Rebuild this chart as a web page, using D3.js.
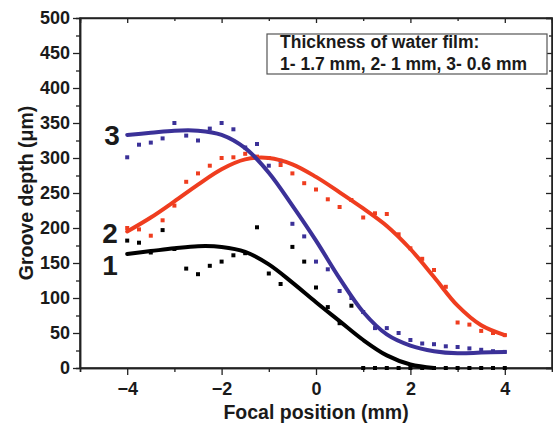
<!DOCTYPE html>
<html>
<head>
<meta charset="utf-8">
<script src="https://cdn.jsdelivr.net/npm/d3@7"></script>
<style>
  body { margin: 0; background: #fff; }
  text { font-family: "Liberation Sans", Arial, sans-serif; font-weight: bold; fill: #1a1a1a; }
</style>
</head>
<body>
<div id="chart"></div>
<script>
var width = 553,
    height = 426;

// measured focal positions (mm)
var focal = [-4, -3.75, -3.5, -3.25, -3, -2.75, -2.5, -2.25, -2, -1.75, -1.5, -1.25, -1, -0.75, -0.5, -0.25,
             0, 0.25, 0.5, 0.75, 1, 1.25, 1.5, 1.75, 2, 2.25, 2.5, 2.75, 3, 3.25, 3.5, 3.75, 4];

// measured groove depth (um), one array per water film
var depth1 = [182, 179, 165, 197, 170, 142, 134, 146, 152, 161, 164, 201, 135, 120, 173, 152,
              115, 87, 64, 89, 0, 0, 0, 0, 0, 0, 0, 0, 0, 0, 0, 0, 0];
var depth2 = [200, 198, 189, 211, 232, 266, 278, 289, 300, 301, 306, 302, 300, 290, 278, 264,
              255, 241, 230, 240, 215, 221, 220, 191, 171, 156, 140, 116, 65, 62, 53, 50, 47];
var depth3 = [301, 319, 322, 328, 350, 332, 325, 342, 350, 341, 315, 320, 289, 296, 206, 188,
              152, 141, 110, 100, 80, 57, 57, 50, 40, 35, 34, 31, 30, 28, 26, 24, 23];

// fitted curves
var fitX = [-4, -3.5, -3, -2.5, -2, -1.5, -1, -0.5, 0, 0.5, 1, 1.5, 2, 2.5, 3, 3.5, 4];
var fit1 = [163, 167, 171, 174, 173, 166, 148, 122, 94, 67, 40, 18, 5, 0];
var fit2 = [195, 215, 238, 262, 284, 298, 300, 291, 273, 251, 228, 203, 170, 130, 89, 61, 47];
var fit3 = [333, 336, 339, 339, 333, 314, 279, 232, 182, 128, 80, 48, 32, 24, 21, 22, 23];

var xTicks = [-4, -2, 0, 2, 4];
var yTicks = [0, 50, 100, 150, 200, 250, 300, 350, 400, 450, 500];

var colors = ["#000000", "#ef3d1f", "#3b3198"];

var padL = 80, padR = 552, padT = 18, padB = 368;

var x = d3.scaleLinear().domain([-5, 5]).range([padL, padR]);
var y = d3.scaleLinear().domain([0, 500]).range([padB, padT]);

var svg = d3.select("#chart").append("svg")
    .attr("width", width)
    .attr("height", height);

// frame
svg.append("rect")
    .attr("x", padL).attr("y", padT)
    .attr("width", padR - padL).attr("height", padB - padT)
    .attr("fill", "none")
    .attr("stroke", "#222")
    .attr("stroke-width", 1.5);

// axes
var xMinor = d3.range(-5, 5.01, 1);
var yMinor = d3.range(0, 501, 25);

var xAxis = svg.append("g").attr("transform", "translate(0," + padB + ")");
xAxis.call(d3.axisBottom(x).tickValues(xMinor).tickSize(4).tickFormat(""));
xAxis.call(function(g) {
    g.selectAll(".tick").filter(function(d) { return xTicks.indexOf(d) >= 0; })
        .select("line").attr("y2", 7);
});
var xLab = svg.append("g").attr("transform", "translate(0," + padB + ")")
    .call(d3.axisBottom(x).tickValues(xTicks).tickSize(0).tickPadding(14));
xLab.selectAll("text").style("font-size", "18px").attr("fill", "#1a1a1a");

var yAxis = svg.append("g").attr("transform", "translate(" + padL + ",0)");
yAxis.call(d3.axisLeft(y).tickValues(yMinor).tickSize(4).tickFormat(""));
yAxis.call(function(g) {
    g.selectAll(".tick").filter(function(d) { return d % 50 === 0; })
        .select("line").attr("x2", -7);
});
var yLab = svg.append("g").attr("transform", "translate(" + padL + ",0)")
    .call(d3.axisLeft(y).tickValues(yTicks).tickSize(0).tickPadding(10));
yLab.selectAll("text").style("font-size", "18px").attr("fill", "#1a1a1a");

// mirrored ticks on top and right (inward)
svg.append("g").attr("transform", "translate(0," + padT + ")")
    .call(d3.axisBottom(x).tickValues(xMinor).tickSize(5).tickFormat(""))
    .call(function(g) {
        g.selectAll(".tick").filter(function(d) { return xTicks.indexOf(d) < 0; })
            .select("line").attr("y2", 3);
    });
svg.append("g").attr("transform", "translate(" + padR + ",0)")
    .call(d3.axisLeft(y).tickValues(yMinor).tickSize(6).tickFormat(""))
    .call(function(g) {
        g.selectAll(".tick").filter(function(d) { return d % 50 !== 0; })
            .select("line").attr("x2", -3);
    });

svg.selectAll(".domain").attr("stroke", "#222").attr("stroke-width", 1.5);
svg.selectAll(".tick line").attr("stroke", "#222").attr("stroke-width", 1.3);

// axis titles
svg.append("text")
    .attr("x", x(0))
    .attr("y", 419)
    .attr("text-anchor", "middle")
    .style("font-size", "19.5px")
    .text("Focal position (mm)");

svg.append("text")
    .attr("transform", "translate(33," + ((padT + padB) / 2) + ") rotate(-90)")
    .attr("text-anchor", "middle")
    .style("font-size", "19.5px")
    .text("Groove depth (\u03bcm)");

// scatter points
var series = [depth1, depth2, depth3];
series.forEach(function(vals, k) {
    svg.append("g").selectAll("rect")
        .data(vals)
        .enter().append("rect")
        .attr("x", function(d, i) { return x(focal[i]) - 2; })
        .attr("y", function(d) { return y(d) - 2; })
        .attr("width", 4)
        .attr("height", 4)
        .attr("fill", colors[k]);
});

// fitted curves
var line = d3.line()
    .x(function(d, i) { return x(fitX[i]); })
    .y(function(d) { return y(d); })
    .curve(d3.curveCatmullRom.alpha(0.5));

[fit1, fit2, fit3].forEach(function(vals, k) {
    svg.append("path")
        .attr("d", line(vals))
        .attr("fill", "none")
        .attr("stroke", colors[k])
        .attr("stroke-width", 4)
        .attr("stroke-linecap", "round");
});

// curve numbers
var tags = [["1", 110, 275], ["2", 110, 243], ["3", 112, 145]];
svg.selectAll(".tag")
    .data(tags)
    .enter().append("text")
    .attr("class", "tag")
    .attr("x", function(d) { return d[1]; })
    .attr("y", function(d) { return d[2]; })
    .attr("text-anchor", "middle")
    .style("font-size", "28px")
    .attr("fill", "#2a2a2a")
    .text(function(d) { return d[0]; });

// legend box
svg.append("rect")
    .attr("x", 267).attr("y", 34)
    .attr("width", 280).attr("height", 40)
    .attr("fill", "#fff")
    .attr("stroke", "#555")
    .attr("stroke-width", 1.2);

svg.append("text")
    .attr("x", 280).attr("y", 48)
    .style("font-size", "17.5px")
    .text("Thickness of water film:");
svg.append("text")
    .attr("x", 280).attr("y", 70)
    .style("font-size", "17.5px")
    .text("1- 1.7 mm, 2- 1 mm, 3- 0.6 mm");
</script>
</body>
</html>
